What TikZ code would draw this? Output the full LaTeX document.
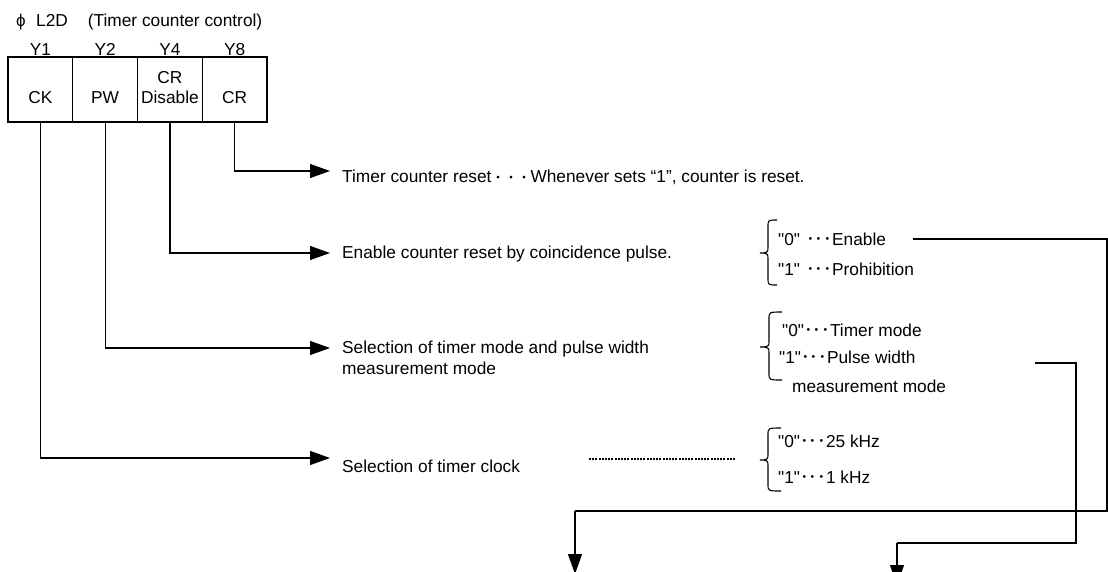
\documentclass[tikz,border=0pt]{standalone}
\usepackage{fontspec}
\setmainfont{Liberation Sans}[Ligatures=TeXOff]
\newfontfamily\cjk{Noto Sans CJK JP}
\usetikzlibrary{arrows.meta}
\newcommand\hdots{{\cjk ･･･}}
\newcommand\drawbrace[6]{% tipx, vx, endx, ytop, ymid, ybot
  \draw[brc] (#3,#4) .. controls (#2,#4) and (#2,#4) .. (#2,#4+7) -- (#2,#5-6)
    .. controls (#2,#5-1) and (#2,#5) .. (#1,#5)
    .. controls (#2,#5) and (#2,#5+1) .. (#2,#5+6) -- (#2,#6-7)
    .. controls (#2,#6) and (#2,#6) .. (#3,#6);}
\begin{document}
\begin{tikzpicture}[x=1pt,y=-1pt,
  font=\fontsize{17.3}{20}\selectfont,
  cell/.style={draw, line width=1.2pt, minimum width=64.75pt, minimum height=65pt, inner sep=0pt},
  txt/.style={anchor=base west, inner sep=0pt},
  ctxt/.style={anchor=base, inner sep=0pt},
  conn/.style={line width=1.2pt},
  arr/.style={conn, -{Triangle[length=20pt,width=14pt]}},
  brc/.style={line width=1.1pt},
  dotline/.style={line width=2.6pt, dash pattern=on 2pt off 1.2pt}]
\useasboundingbox (0,0) rectangle (1108,571);
\clip (0,0) rectangle (1108,571);

% title
\node[txt] (title) at (16,26) {\makebox[20pt][l]{\fontsize{17}{17}\selectfont ϕ}L2D\hspace{20pt}(Timer counter control)};

% register cells
\node[cell] (ck) at (40.4,89.5) {};
\node[cell] (pw) at (105.1,89.5) {};
\node[cell] (crd) at (169.9,89.5) {};
\node[cell] (cr) at (234.6,89.5) {};

\node[ctxt] (y1) at (40.4,55) {Y1};
\node[ctxt] (y2) at (105.1,55) {Y2};
\node[ctxt] (y4) at (169.9,55) {Y4};
\node[ctxt] (y8) at (234.6,55) {Y8};

\node[ctxt] (ckt) at (40.4,103) {CK};
\node[ctxt] (pwt) at (105.1,103) {PW};
\node[ctxt] (crdt1) at (169.9,83) {CR};
\node[ctxt] (crdt2) at (169.9,103) {Disable};
\node[ctxt] (crt) at (234.6,103) {CR};

% descriptions
\node[txt] (t1) at (342,182) {Timer counter reset{\cjk\fontsize{13}{13}\selectfont ・・・}Whenever sets “1”, counter is reset.};
\node[txt] (t2) at (342,258) {Enable counter reset by coincidence pulse.};
\node[txt] (t3a) at (342,353) {Selection of timer mode and pulse width};
\node[txt] (t3b) at (342,374) {measurement mode};
\node[txt] (t4) at (342,472) {Selection of timer clock};

\coordinate (a1) at (330,171);
\coordinate (a2) at (330,253);
\coordinate (a3) at (330,348);
\coordinate (a4) at (330,458);
\draw[arr] (cr.south) |- (a1);
\draw[arr] (crd.south) |- (a2);
\draw[arr] (pw.south) |- (a3);
\draw[arr] (ck.south) |- (a4);

% dotted leader
\coordinate (d1) at (589,459);
\coordinate (d2) at (736,459);
\draw[dotline] (d1) -- (d2);

% braces and options
\drawbrace{760}{768}{777}{220}{253}{285}
\node[txt] (e0) at (778,245) {\makebox[28pt][l]{"0"}\hdots Enable};
\node[txt] (e1) at (778,275) {\makebox[28pt][l]{"1"}\hdots Prohibition};

\drawbrace{760}{769}{782}{312}{347}{380}
\node[txt] (m0) at (782,336) {"0"\hdots Timer mode};
\node[txt] (m1) at (779,363) {"1"\hdots Pulse width};
\node[txt] (m2) at (792,392) {measurement mode};

\drawbrace{760}{768}{781}{428}{460}{491}
\node[txt] (c0) at (778,447) {"0"\hdots 25 kHz};
\node[txt] (c1) at (778,483) {"1"\hdots 1 kHz};

% routing lines to the bottom
\coordinate (s1) at (913,239);
\coordinate (b1) at (575,511);
\coordinate (e1end) at (575,574);
\draw[conn] (s1) -- (1107,239) -- (1107,511) -- (b1);
\draw[arr] (b1) -- (e1end);

\coordinate (s2) at (1035,363);
\coordinate (b2) at (897,543);
\coordinate (e2end) at (897,585);
\draw[conn] (s2) -- (1076,363) -- (1076,543) -- (b2);
\draw[arr] (b2) -- (e2end);
\end{tikzpicture}
\end{document}
